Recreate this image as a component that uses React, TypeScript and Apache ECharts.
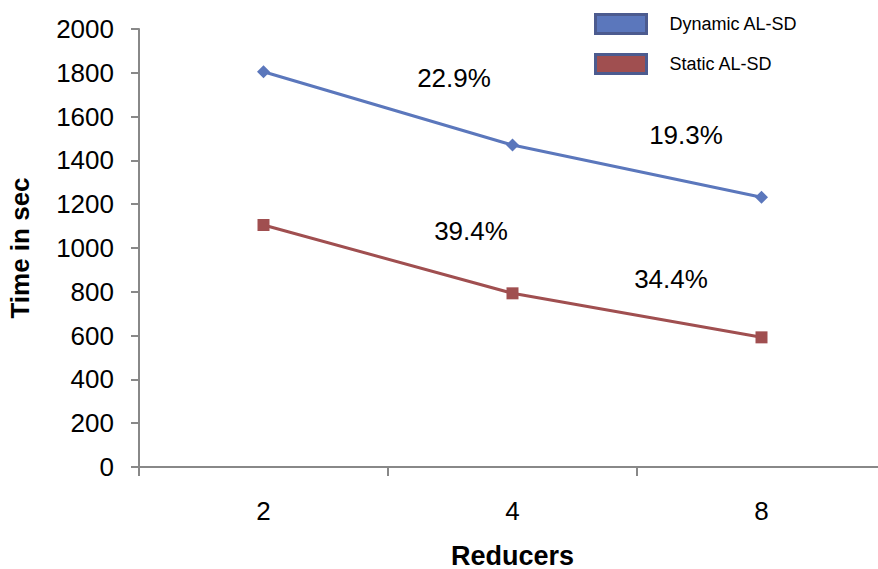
import React, { useEffect, useRef } from "react";
import * as echarts from "echarts";

const reducers = ["2", "4", "8"];
const dynamicTimes = [1805, 1470, 1232];
const staticTimes = [1105, 793, 592];
const yTicks = { min: 0, max: 2000, interval: 200 };
const gains = [
  { text: "22.9%", x: 454, y: 78 },
  { text: "19.3%", x: 686, y: 135 },
  { text: "39.4%", x: 471, y: 231 },
  { text: "34.4%", x: 671, y: 279 },
];

const FONT = "'Liberation Sans', Arial, Helvetica, sans-serif";

export default function App() {
  const ref = useRef<HTMLDivElement>(null);

  useEffect(() => {
    if (!ref.current) return;
    const chart = echarts.init(ref.current, undefined, { renderer: "svg" });
    chart.setOption({
      animation: false,
      backgroundColor: "#ffffff",
      textStyle: { fontFamily: FONT },
      grid: { left: 139, right: -8, top: 29, bottom: 102, outerBoundsMode: "none", containLabel: false },
      legend: {
        orient: "vertical",
        left: 589,
        top: 8,
        itemWidth: 51,
        itemHeight: 19,
        itemGap: 18,
        icon: "rect",
        itemStyle: { borderColor: "#4C5B8F", borderWidth: 3 },
        textStyle: { fontFamily: FONT, fontSize: 18, color: "#000", padding: [0, 0, 0, 18] },
        data: [
          { name: "Dynamic AL-SD" },
          { name: "Static AL-SD", textStyle: { padding: [22, 0, 0, 18] } },
        ],
      },
      xAxis: {
        type: "category",
        data: reducers,
        boundaryGap: true,
        name: "Reducers",
        nameLocation: "middle",
        nameGap: 75,
        nameTextStyle: { fontFamily: FONT, fontSize: 27, fontWeight: "bold", color: "#000" },
        axisLine: { lineStyle: { color: "#888", width: 2 } },
        axisTick: { show: true, length: 9, inside: false, lineStyle: { color: "#888", width: 2 } },
        axisLabel: { fontFamily: FONT, fontSize: 26, color: "#000", margin: 31 },
        splitLine: { show: false },
      },
      yAxis: {
        type: "value",
        min: yTicks.min,
        max: yTicks.max,
        interval: yTicks.interval,
        name: "Time in sec",
        nameLocation: "middle",
        nameGap: 106,
        nameTextStyle: { fontFamily: FONT, fontSize: 26, fontWeight: "bold", color: "#000" },
        axisLine: { show: true, lineStyle: { color: "#888", width: 2 } },
        axisTick: { show: true, length: 8, lineStyle: { color: "#888", width: 2 } },
        axisLabel: {
          fontFamily: FONT,
          fontSize: 26,
          color: "#000",
          margin: 25,
          formatter: (v: number) => String(v),
        },
        splitLine: { show: false },
      },
      series: [
        {
          name: "Dynamic AL-SD",
          type: "line",
          data: dynamicTimes,
          color: "#5B77BC",
          lineStyle: { width: 3, color: "#5B77BC" },
          symbol: "diamond",
          symbolSize: 13,
          itemStyle: { color: "#5B77BC" },
        },
        {
          name: "Static AL-SD",
          type: "line",
          data: staticTimes,
          color: "#A04F50",
          lineStyle: { width: 3, color: "#A04F50" },
          symbol: "rect",
          symbolSize: 12,
          itemStyle: { color: "#A04F50" },
        },
      ],
      graphic: gains.map((g) => ({
        type: "text",
        x: g.x,
        y: g.y,
        style: {
          text: g.text,
          fontFamily: FONT,
          fontSize: 26,
          fill: "#000",
          textAlign: "center",
          textVerticalAlign: "middle",
        },
      })),
    });
    return () => chart.dispose();
  }, []);

  return <div ref={ref} style={{ width: 878, height: 569, position: "absolute", left: 0, top: 0 }} />;
}
